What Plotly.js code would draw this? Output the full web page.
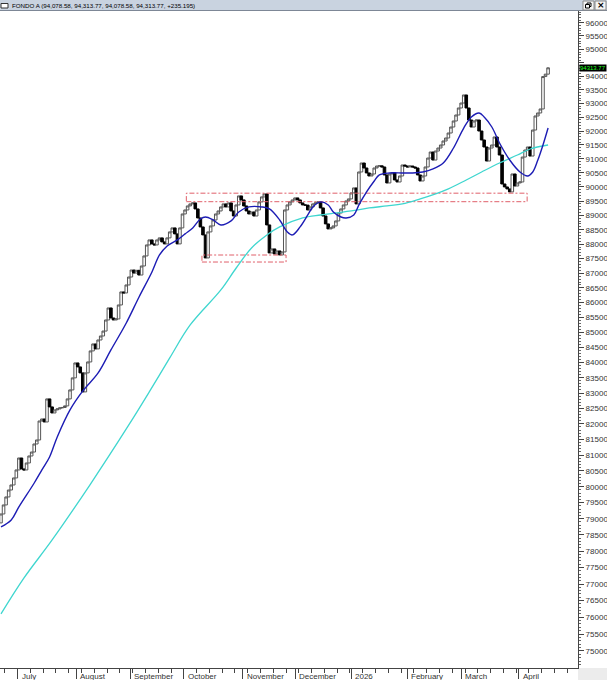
<!DOCTYPE html>
<html><head><meta charset="utf-8">
<script src="https://cdn.plot.ly/plotly-3.0.1.min.js"></script>
<style>html,body{margin:0;padding:0;background:#fff}#chart{width:607px;height:680px}</style>
</head><body><div id="chart"></div>
<script>
// Daily closes (trading-day index 0 = late June 2025 ... last = mid April 2026)
const closes = [
79148,79429,79679,79897,80055,80276,80529,80908,80561,80529,
80750,80972,81098,81355,81483,82093,82158,82061,82808,82548,
82353,82451,82483,82516,82530,82581,82808,83101,83495,83987,
83856,83659,83036,83659,84020,84384,84616,84451,84748,84881,
85046,85417,85821,85484,85417,85451,85922,86363,86329,86600,
86871,87110,87006,87100,86939,87248,87593,87972,88146,88008,
87972,88146,88216,88077,88008,88216,88424,88563,88355,88008,
88563,89050,89190,89331,89402,89437,89226,88910,88597,88320,
87524,88424,88632,88840,89050,89155,89296,89402,89296,89437,
89155,88979,89366,89683,89542,89331,89155,89050,89120,88979,
89190,89472,89648,89754,88667,87696,87834,87662,87765,87627,
87731,89190,89366,89472,89542,89613,89542,89437,89366,89360,
89190,89296,89402,89437,89472,89261,88979,88702,88528,88563,
88632,88806,89085,89226,89366,89507,89578,89789,89965,89402,
90531,90851,90673,90496,90389,90460,90673,90744,90750,90709,
90425,90141,90460,90496,90247,90176,90389,90780,90744,90709,
90744,90709,90673,90425,90212,90389,90709,91028,91244,90957,
91280,91388,91496,91640,91748,91928,92145,92363,92581,92836,
93017,93312,92836,92399,92145,92363,92399,92000,91676,91424,
90922,91388,91496,91784,91424,91136,90105,90000,89930,89824,
90460,90034,90141,90176,91064,91316,91424,91100,92035,92545,
92654,92800,93990,94078.58,94313.77
];
const firstOpen = 78870;

// Short moving average (blue), read at sample days
const blueIdx = [0,4,7,13,16,19,22,27,32,38,43,49,54,59,62,65,69,72,75,78,80,83,86,90,93,97,102,105,109,112,114,117,120,122,125,128,130,133,135,138,140,143,146,148,152,157,161,165,169,173,177,181,184,187,189,192,195,199,203,206,208,210,212,214];
const blueVal = [78747,78963,79367,80117,80529,80940,81579,82451,83069,83659,84417,85316,86193,87035,87627,87938,88146,88355,88563,88875,88944,88840,88667,88806,89120,89296,89296,89226,88840,88424,88320,88597,89014,89296,89472,89366,89120,88944,88910,89014,89366,89824,90212,90425,90496,90496,90496,90531,90638,90851,91388,92108,92509,92654,92509,92145,91568,90957,90531,90389,90531,90957,91496,92108];

// Long moving average (turquoise), read at sample days
const cyanIdx = [0,9,20,35,50,58,66,74,86,92,98,104,109,118,125,131,137,144,151,157,164,170,175,182,188,195,202,207,214];
const cyanVal = [76100,77183,78345,80085,81965,83036,84152,85249,86431,87179,87869,88320,88597,88910,89014,89085,89155,89261,89331,89402,89578,89754,89930,90247,90531,90851,91136,91352,91496];

// Month boundaries (day index) and their labels
const monthTickIdx = [6.5,29.5,50.5,71.5,94.5,115,137,159,180,202.5];
const monthNames = ['July','August','September','October','November','December','2026','February','March','April'];

// Dash-dot range boxes
const upperBoxX = [72.5, 205.8];
const upperBoxY = [89480, 89780];
const lowerBoxX = [78.6, 111.5];
const lowerBoxY = [87384, 87625];

const headerText = 'FONDO A (94,078.58, 94,313.77, 94,078.58, 94,313.77, +235.195)';

const idx = closes.map((_, i) => i);
const opens = closes.map((c, i) => i === 0 ? firstOpen : closes[i - 1]);
const highs = closes.map((c, i) => Math.max(c, opens[i]));
const lows = closes.map((c, i) => Math.min(c, opens[i]));
const lastClose = closes[closes.length - 1];

function boxTrace(bx, by) {
  return {type: 'scatter', mode: 'lines',
    x: [bx[0], bx[1], bx[1], bx[0], bx[0]],
    y: [by[0], by[0], by[1], by[1], by[0]],
    line: {color: '#e0606a', width: 1, dash: '5px,2px,2px,2px'},
    hoverinfo: 'skip', showlegend: false};
}

const yTicks = [];
for (let v = 75000; v <= 96000; v += 500) yTicks.push(v);
// the 94500 label sits behind the last-value marker
const yTickText = yTicks.map(v => v === 94500 ? '' : String(v));
const yMinor = [];
for (let v = 74600; v <= 96400; v += 100) if (v % 500 !== 0) yMinor.push(v);

const traces = [
  boxTrace(upperBoxX, upperBoxY),
  boxTrace(lowerBoxX, lowerBoxY),
  {type: 'candlestick', x: idx, open: opens, high: highs, low: lows, close: closes,
    increasing: {line: {color: '#555555', width: 1}, fillcolor: '#ffffff'},
    decreasing: {line: {color: '#000000', width: 1}, fillcolor: '#000000'},
    whiskerwidth: 0, showlegend: false, hoverinfo: 'skip'},
  {type: 'scatter', mode: 'lines', x: cyanIdx, y: cyanVal,
    line: {color: '#3fd6cf', width: 1.3, shape: 'spline', smoothing: 1}, showlegend: false},
  {type: 'scatter', mode: 'lines', x: blueIdx, y: blueVal,
    line: {color: '#1c1cb4', width: 1.4, shape: 'spline', smoothing: 1}, showlegend: false}
];

const PX = 578, PH = 657;
const px2x = p => p / PX;
const py2y = p => 1 + (11 - p) / PH;

const annotations = monthNames.map((m, k) => ({
  x: monthTickIdx[k], xref: 'x', y: 0, yref: 'paper', yshift: -2, xshift: 2,
  xanchor: 'left', yanchor: 'top', text: m, showarrow: false,
  font: {family: 'Liberation Sans, Arial, sans-serif', size: 8, color: '#333'}
}));
annotations.push({
  x: px2x(10), xref: 'paper', y: py2y(5.5), yref: 'paper', xanchor: 'left', yanchor: 'middle',
  text: headerText, showarrow: false,
  font: {family: 'Liberation Sans, Arial, sans-serif', size: 6.2, color: '#000'}
});
annotations.push({
  x: 1, xref: 'paper', xshift: 1, y: Math.log10(lastClose), yref: 'y',
  xanchor: 'left', yanchor: 'middle', text: String(lastClose), showarrow: false,
  bgcolor: '#000', borderpad: 0,
  font: {family: 'Liberation Sans, Arial, sans-serif', size: 6, color: '#22ff22'}
});
annotations.push({
  x: px2x(600.5), xref: 'paper', y: py2y(5.5), yref: 'paper', xanchor: 'center', yanchor: 'middle',
  text: '<b>×</b>', showarrow: false,
  font: {family: 'DejaVu Sans, sans-serif', size: 9, color: '#000'}
});

const shapes = [
  {type: 'rect', xref: 'paper', yref: 'paper', x0: -0.01, x1: 1.06, y0: py2y(10.5), y1: 1.03,
    fillcolor: '#c9d3e0', line: {width: 0}, layer: 'above'},
  {type: 'line', xref: 'paper', yref: 'paper', x0: -0.01, x1: 1.06, y0: py2y(10.5), y1: py2y(10.5),
    line: {color: '#7d8796', width: 1}, layer: 'above'},
  {type: 'rect', xref: 'paper', yref: 'paper', x0: px2x(1), x1: px2x(8), y0: py2y(8), y1: py2y(3.5),
    fillcolor: '#fff', line: {color: '#333', width: 1}, layer: 'above'},
  {type: 'rect', xref: 'paper', yref: 'paper', x0: px2x(583), x1: px2x(594), y0: py2y(10), y1: py2y(1),
    fillcolor: '#f4f4f4', line: {color: '#888', width: 1}, layer: 'above'},
  {type: 'rect', xref: 'paper', yref: 'paper', x0: px2x(595), x1: px2x(606), y0: py2y(10), y1: py2y(1),
    fillcolor: '#f4f4f4', line: {color: '#888', width: 1}, layer: 'above'},
  {type: 'rect', xref: 'paper', yref: 'paper', x0: px2x(587), x1: px2x(591), y0: py2y(6.5), y1: py2y(3),
    fillcolor: 'rgba(0,0,0,0)', line: {color: '#000', width: 1}, layer: 'above'},
  {type: 'rect', xref: 'paper', yref: 'paper', x0: px2x(585.5), x1: px2x(589.5), y0: py2y(8), y1: py2y(4.5),
    fillcolor: '#f4f4f4', line: {color: '#000', width: 1}, layer: 'above'},
  {type: 'rect', xref: 'paper', yref: 'paper', x0: 1, x1: 1.06, y0: -0.03, y1: 0,
    fillcolor: '#ececec', line: {width: 0}, layer: 'below'}
];

const layout = {
  width: 607, height: 680,
  margin: {l: 0, r: 29, t: 11, b: 12, pad: 0},
  paper_bgcolor: '#ffffff', plot_bgcolor: '#ffffff',
  showlegend: false, boxgap: 0, boxgroupgap: 0,
  font: {family: 'Liberation Sans, Arial, sans-serif', size: 8, color: '#333'},
  xaxis: {type: 'linear', range: [-0.39, 225.7], showgrid: false, zeroline: false,
    showline: true, linecolor: '#444', linewidth: 1,
    tickmode: 'array', tickvals: monthTickIdx, ticks: 'outside', ticklen: 10, tickcolor: '#444',
    showticklabels: false, fixedrange: true,
    minor: {tickmode: 'linear', tick0: 1.5, dtick: 5, ticks: 'outside', ticklen: 4, tickcolor: '#444'},
    rangeslider: {visible: false}},
  yaxis: {type: 'log', side: 'right', range: [Math.log10(74500), Math.log10(96442)],
    showgrid: false, zeroline: false, showline: true, linecolor: '#444', linewidth: 1,
    tickmode: 'array', tickvals: yTicks, ticktext: yTickText,
    ticks: 'outside', ticklen: 5, tickcolor: '#444',
    tickfont: {family: 'Liberation Sans, Arial, sans-serif', size: 8, color: '#333'},
    minor: {tickmode: 'array', tickvals: yMinor, ticks: 'outside', ticklen: 2, tickcolor: '#666'},
    fixedrange: true},
  shapes: shapes,
  annotations: annotations
};

Plotly.newPlot('chart', traces, layout, {displayModeBar: false, staticPlot: true});
</script>
</body></html>
